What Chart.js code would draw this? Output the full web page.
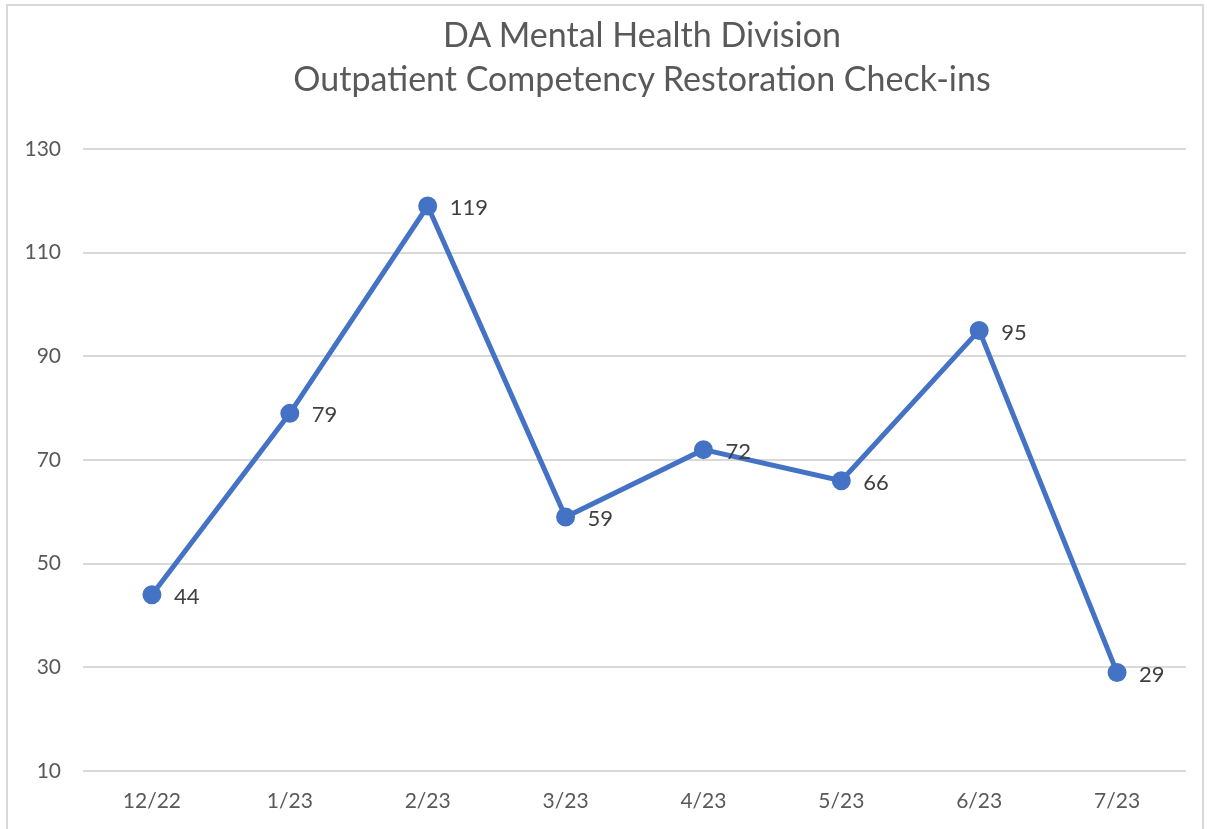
<!DOCTYPE html>
<html>
<head>
<meta charset="utf-8">
<script src="https://cdn.jsdelivr.net/npm/chart.js@4"></script>
<style>
  html, body { margin: 0; padding: 0; background: #fff; }
  #wrap { position: relative; width: 1207px; height: 829px; overflow: hidden; }
  #frame { position: absolute; left: 6px; top: 4px; width: 1198px; height: 900px; border: 2px solid #d9d9d9; box-sizing: border-box; }
  #chart { position: absolute; left: 0; top: 0; }
  #title { position: absolute; left: 242px; width: 800px; top: 12px; text-align: center;
           font-family: Lato, "Open Sans", sans-serif; font-size: 34px; line-height: 44px; color: #595959; }
</style>
</head>
<body>
<div id="wrap">
  <div id="frame"></div>
  <canvas id="chart" width="1207" height="829"></canvas>
  <div id="title"></div>
</div>
<script>
// chart data
const months = ["12/22", "1/23", "2/23", "3/23", "4/23", "5/23", "6/23", "7/23"];
const checkins = [44, 79, 119, 59, 72, 66, 95, 29];
const titleLines = ["DA Mental Health Division", "Outpatient Competency Restoration Check-ins"];
const yMin = 10;
const yMax = 130;
const yStep = 20;

const fontFamily = "Lato, 'Open Sans', sans-serif";

document.getElementById("title").innerHTML = titleLines.join("<br>");

// value labels to the right of each point
const pointLabels = {
    id: "pointLabels",
    afterDatasetsDraw(c) {
        const ctx = c.ctx;
        const meta = c.getDatasetMeta(0);
        ctx.save();
        ctx.font = "22px " + fontFamily;
        ctx.fillStyle = "#404040";
        ctx.textAlign = "left";
        ctx.textBaseline = "middle";
        meta.data.forEach((pt, i) => {
            ctx.fillText(String(checkins[i]), pt.x + 22, pt.y + 2);
        });
        ctx.restore();
    }
};

const chart = new Chart(document.getElementById("chart"), {
    type: "line",
    data: {
        labels: months,
        datasets: [{
            data: checkins,
            borderColor: "#4472C4",
            backgroundColor: "#4472C4",
            borderWidth: 5,
            pointRadius: 7,
            pointHoverRadius: 7,
            tension: 0
        }]
    },
    options: {
        responsive: false,
        animation: false,
        layout: { padding: { left: 0, right: 21, top: 149, bottom: 0 } },
        plugins: {
            legend: { display: false },
            tooltip: { enabled: false },
            title: { display: false }
        },
        scales: {
            x: {
                offset: true,
                grid: { display: false, drawTicks: false },
                border: { display: false },
                ticks: { color: "#595959", font: { family: fontFamily, size: 21 }, padding: 18 },
                afterFit: s => { s.height = 58; }
            },
            y: {
                min: yMin,
                max: yMax,
                grid: { color: "#d9d9d9", lineWidth: 2, drawTicks: false },
                border: { display: false },
                ticks: { stepSize: yStep, color: "#595959", font: { family: fontFamily, size: 21 }, padding: 22 },
                afterFit: s => { s.width = 83; }
            }
        }
    },
    plugins: [pointLabels]
});
</script>
</body>
</html>
